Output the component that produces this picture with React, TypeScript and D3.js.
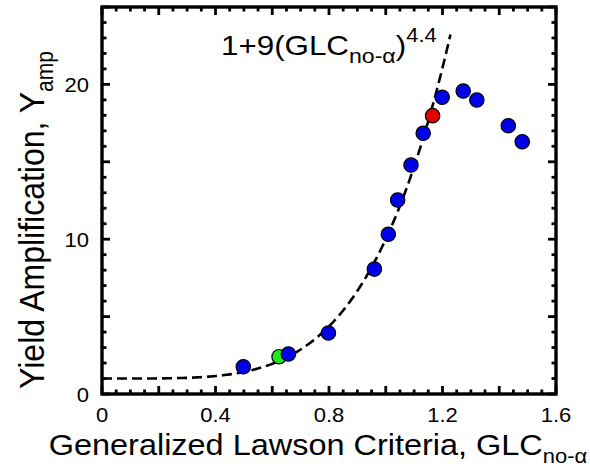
import React from "react";
import * as d3 from "d3";

const glc = [0.498, 0.624, 0.657, 0.798, 0.96, 1.009, 1.042, 1.089, 1.132, 1.165, 1.199, 1.273, 1.321, 1.432, 1.481];
const yamp = [1.76, 2.41, 2.58, 3.94, 8.07, 10.32, 12.53, 14.79, 16.84, 17.98, 19.17, 19.57, 18.99, 17.33, 16.3];
const pointColors = ["blue", "green", "blue", "blue", "blue", "blue", "blue", "blue", "blue", "red", "blue", "blue", "blue", "blue", "blue"];
const xTickLabels = [0, 0.4, 0.8, 1.2, 1.6];
const yTickLabels = [0, 10, 20];
const fitCoef = 9;
const fitExp = 4.4;
const fitXMax = 1.228;

const W = 590, H = 472;
const L = 102, R = 556, T = 7, B = 394;
const SX = 1.1;
const colorMap: Record<string, string> = { blue: "#0000e8", green: "#22e622", red: "#e80000" };
const FONT = "'Liberation Sans', Arial, sans-serif";

export default function App() {
  const x = d3.scaleLinear().domain([0, 1.6]).range([L, R]);
  const y = d3.scaleLinear().domain([0, 25]).range([B, T]);

  const xMinor = d3.range(0, 33).map((i) => i * 0.05);
  const yMinor = d3.range(0, 26);

  const fitXs = d3.range(0, 200).map((i) => (i / 199) * fitXMax);
  const line = d3
    .line<number>()
    .x((d) => x(d))
    .y((d) => y(1 + fitCoef * Math.pow(d, fitExp)));

  const ticks: JSX.Element[] = [];
  xMinor.forEach((v, i) => {
    const major = i % 4 === 0;
    const len = major ? 8 : 4.5;
    const px = x(v);
    ticks.push(<line key={"xb" + i} x1={px} x2={px} y1={B} y2={B - len} stroke="#000" strokeWidth={2.8} />);
    ticks.push(<line key={"xt" + i} x1={px} x2={px} y1={T} y2={T + len} stroke="#000" strokeWidth={2.8} />);
  });
  yMinor.forEach((v, i) => {
    const major = i % 5 === 0;
    const len = major ? 8 : 4.5;
    const py = y(v);
    ticks.push(<line key={"yl" + i} x1={L} x2={L + len} y1={py} y2={py} stroke="#000" strokeWidth={2.8} />);
    ticks.push(<line key={"yr" + i} x1={R} x2={R - len} y1={py} y2={py} stroke="#000" strokeWidth={2.8} />);
  });

  return (
    <svg width={W} height={H} style={{ position: "absolute", left: 0, top: 0, background: "#fff" }} fontFamily={FONT}>
      <rect x={0} y={0} width={W} height={H} fill="#fff" />
      <path d={line(fitXs) || ""} fill="none" stroke="#000" strokeWidth={2.6} strokeDasharray="10,5" />
      {glc.map((gx, i) => (
        <circle key={i} cx={x(gx)} cy={y(yamp[i])} r={7.2} fill={colorMap[pointColors[i]]} stroke="#000" strokeWidth={1.2} />
      ))}
      {ticks}
      <rect x={L} y={T} width={R - L} height={B - T} fill="none" stroke="#000" strokeWidth={3.4} />
      {xTickLabels.map((v) => (
        <g key={"xl" + v} transform={`translate(${x(v)},422) scale(${SX},1)`}>
          <text x={0} y={0} textAnchor="middle" fontSize={20}>
            {String(v)}
          </text>
        </g>
      ))}
      {yTickLabels.map((v) => (
        <g key={"yl" + v} transform={`translate(89,${y(v) + 7.5}) scale(${SX},1)`}>
          <text x={0} y={0} textAnchor="end" fontSize={20}>
            {String(v)}
          </text>
        </g>
      ))}
      <g transform={`translate(318,455) scale(${SX},1)`}>
        <text x={0} y={0} textAnchor="middle" fontSize={29.5}>
          Generalized Lawson Criteria, GLC
          <tspan fontSize={20} dy={8}>no-α</tspan>
        </text>
      </g>
      <g transform={`translate(44,220) scale(${SX},1) rotate(-90)`}>
        <text x={0} y={0} textAnchor="middle" fontSize={32}>
          Yield Amplification, Y
          <tspan fontSize={21} dy={8}>amp</tspan>
        </text>
      </g>
      <g transform={`translate(221,55) scale(${SX},1)`}>
        <text x={0} y={0} fontSize={28.5}>
          1+9(GLC
          <tspan fontSize={21} dy={8}>no-α</tspan>
          <tspan dy={-8}>)</tspan>
          <tspan fontSize={20} dy={-13}>4.4</tspan>
        </text>
      </g>
    </svg>
  );
}
